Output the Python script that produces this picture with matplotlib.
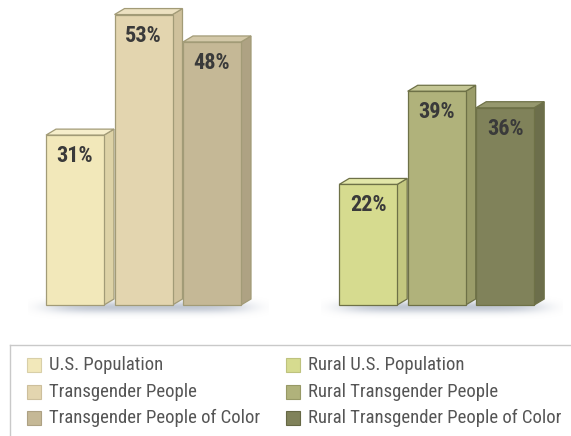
import numpy as np
import matplotlib
matplotlib.use("Agg")
import matplotlib.pyplot as plt
from matplotlib.patches import Polygon, Rectangle
from matplotlib.lines import Line2D

# ---- data ----
groups = ["All", "Rural"]
series_all = ["U.S. Population", "Transgender People", "Transgender People of Color"]
series_rural = ["Rural U.S. Population", "Rural Transgender People", "Rural Transgender People of Color"]
values_all = [31, 53, 48]
values_rural = [22, 39, 36]
labels_all = ["31%", "53%", "48%"]
labels_rural = ["22%", "39%", "36%"]

# ---- style ----
front_all = ["#F2E8BA", "#E3D5AF", "#C5B896"]
side_all = ["#DDD2A6", "#CFC19C", "#AEA283"]
top_all = ["#F6EECB", "#ECE1C1", "#D3C8A8"]
edge_all = "#A29B77"
front_rural = ["#D6DB8F", "#B0B27B", "#80825A"]
side_rural = ["#C3C77F", "#9A9C69", "#6C6E4B"]
top_rural = ["#E2E6A8", "#C4C694", "#96986E"]
edge_rural = "#6E7147"

W, H = 571, 436
fig = plt.figure(figsize=(W / 100, H / 100), dpi=100)
fig.patch.set_facecolor("white")

px_per_unit = 68.5
px_per_pct = 5.48
base_px = 305
x0_center_px = 75
ylim_top = 55
ax = fig.add_axes([0, (H - base_px) / H, 1, ylim_top * px_per_pct / H])
ax.set_xlim(-x0_center_px / px_per_unit, (W - x0_center_px) / px_per_unit)
ax.set_ylim(0, ylim_top)
ax.axis("off")

bar_w = 58 / px_per_unit
dx = 10 / px_per_unit
dy = 6 / px_per_pct
pos_all = np.array([0, 1, 2], dtype=float)
pos_rural = pos_all + 4.28

label_font = ["Roboto Condensed", "Archivo Narrow", "DejaVu Sans"]

# shadows
def shadow(xc_left, xc_right):
    nx, ny = 200, 60
    xs = np.linspace(-1, 1, nx)
    ys = np.linspace(-1, 1, ny)
    X, Y = np.meshgrid(xs, ys)
    a = np.exp(-(np.abs(X) ** 6) * 3) * np.exp(-(Y ** 2) * 4) * 0.5
    img = np.zeros((ny, nx, 4))
    img[..., 0] = 0.52
    img[..., 1] = 0.57
    img[..., 2] = 0.66
    img[..., 3] = a
    left = xc_left - bar_w / 2 - 18 / px_per_unit
    right = xc_right + bar_w / 2 + dx + 18 / px_per_unit
    ax.imshow(img, extent=[left, right, -14 / px_per_pct, 10 / px_per_pct],
              aspect="auto", zorder=0, clip_on=False, interpolation="bilinear")

shadow(pos_all[0], pos_all[-1])
shadow(pos_rural[0], pos_rural[-1])

def draw_group(pos, vals, labs, fronts, sides, tops, edge):
    bars = ax.bar(pos, vals, width=bar_w, color=fronts, edgecolor=edge,
                  linewidth=0.9, zorder=3, clip_on=False)
    for b, v, lab, sc, tc in zip(bars, vals, labs, sides, tops):
        x0 = b.get_x()
        x1 = x0 + b.get_width()
        side = Polygon([(x1, 0), (x1 + dx, dy), (x1 + dx, v + dy), (x1, v)],
                       closed=True, facecolor=sc, edgecolor=edge, linewidth=0.9,
                       zorder=2, clip_on=False)
        top = Polygon([(x0, v), (x1, v), (x1 + dx, v + dy), (x0 + dx, v + dy)],
                      closed=True, facecolor=tc, edgecolor=edge, linewidth=0.9,
                      zorder=2, clip_on=False)
        ax.add_patch(side)
        ax.add_patch(top)
        ax.text(x0 + b.get_width() / 2, v - 21 / px_per_pct, lab, ha="center",
                va="center", fontsize=16, fontweight="bold", color="#3A3A3A",
                family=label_font, zorder=5)

draw_group(pos_all, values_all, labels_all, front_all, side_all, top_all, edge_all)
draw_group(pos_rural, values_rural, labels_rural, front_rural, side_rural, top_rural, edge_rural)

# ---- legend (manual, figure pixel coords) ----
def fx(px):
    return px / W

def fy(py):
    return 1 - py / H

line_col = "#C9C9C9"
fig.add_artist(Line2D([fx(10), fx(W)], [fy(345), fy(345)], color=line_col, lw=1.0))
fig.add_artist(Line2D([fx(10), fx(10)], [fy(345), fy(H)], color=line_col, lw=1.0))

legend_edges_all = ["#D8CFA8", "#CDBF9C", "#ADA183"]
legend_edges_rural = ["#BEC27E", "#979966", "#666845"]
row_y = [365, 392, 418]
cols = [(27, series_all, front_all, legend_edges_all),
        (286, series_rural, front_rural, legend_edges_rural)]
sq = 14
for xpx, names, cols_f, cols_e in cols:
    for ypx, name, fc, ec in zip(row_y, names, cols_f, cols_e):
        fig.add_artist(Rectangle((fx(xpx), fy(ypx + sq / 2)), sq / W, sq / H,
                                 facecolor=fc, edgecolor=ec, linewidth=0.8))
        fig.text(fx(xpx + sq + 8), fy(ypx), name, ha="left", va="center",
                 fontsize=13.5, color="#555555", family=label_font)

fig.savefig("out.png", dpi=100, facecolor="white")
